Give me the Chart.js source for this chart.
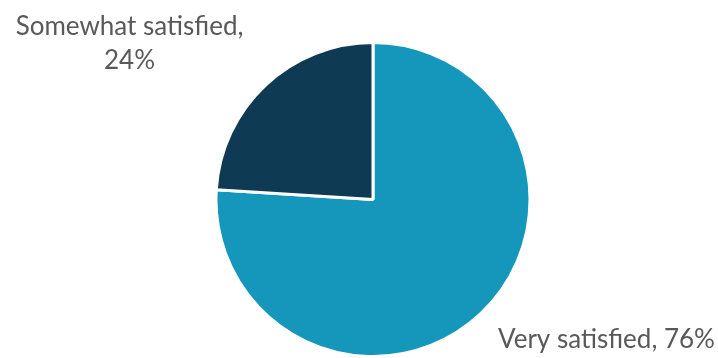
<!DOCTYPE html>
<html>
<head>
<meta charset="utf-8">
<script src="https://cdn.jsdelivr.net/npm/chart.js@4"></script>
<style>
  html, body { margin: 0; padding: 0; background: #fff; }
  #wrap { width: 718px; height: 358px; }
</style>
</head>
<body>
<div id="wrap"><canvas id="myChart" width="718" height="358"></canvas></div>
<script>
let categories = ["Very satisfied", "Somewhat satisfied"];
let shares = [76, 24];
let sliceColors = ["#1596BB", "#0E3B53"];

// where the label sits relative to the slice edge at its mid angle
let labelOffsets = [
    { dx: 126, dy: 26, lines: (c, v) => [c + ", " + v + "%"] },
    { dx: -136, dy: -58, lines: (c, v) => [c + ",", v + "%"] }
];

const outsideLabels = {
    id: 'outsideLabels',
    afterDatasetsDraw(chart) {
        let ctx = chart.ctx;
        let meta = chart.getDatasetMeta(0);
        ctx.save();
        ctx.font = '26px Lato, "Open Sans", sans-serif';
        ctx.fillStyle = '#595959';
        ctx.textAlign = 'center';
        ctx.textBaseline = 'middle';
        meta.data.forEach((arc, i) => {
            let p = arc.getProps(['x', 'y', 'startAngle', 'endAngle', 'outerRadius'], true);
            let mid = (p.startAngle + p.endAngle) / 2;
            let ax = p.x + Math.cos(mid) * p.outerRadius;
            let ay = p.y + Math.sin(mid) * p.outerRadius;
            let off = labelOffsets[i];
            let lines = off.lines(categories[i], shares[i]);
            lines.forEach((t, k) => {
                ctx.fillText(t, ax + off.dx, ay + off.dy + k * 34);
            });
        });
        ctx.restore();
    }
};

new Chart(document.getElementById("myChart"), {
    type: 'pie',
    data: {
        labels: categories,
        datasets: [{
            data: shares,
            backgroundColor: sliceColors,
            borderColor: '#ffffff',
            borderWidth: 3
        }]
    },
    options: {
        responsive: false,
        animation: false,
        layout: { padding: { top: 41, left: 28, right: 0, bottom: 0 } },
        plugins: {
            legend: { display: false },
            tooltip: { enabled: false }
        }
    },
    plugins: [outsideLabels]
});
</script>
</body>
</html>
